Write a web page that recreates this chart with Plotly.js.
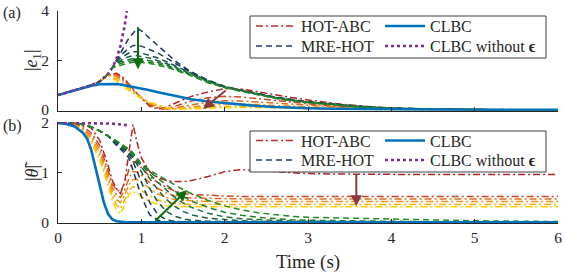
<!DOCTYPE html>
<html>
<head>
<meta charset="utf-8">
<script src="https://cdn.plot.ly/plotly-3.0.1.min.js"></script>
<style>html,body{margin:0;padding:0;background:#fff;}#chart{width:565px;height:274px;}</style>
</head>
<body>
<div id="chart"></div>
<script>
// ---------- Panel (a): |e1| ----------
const tA = [0,0.2,0.4,0.5,0.6,0.65,0.7,0.75,0.8,0.85,0.9,0.95,1.0,1.1,1.2,1.3,1.4,1.5,1.6,1.8,2.0,2.2,2.4,2.6,2.8,3.0,3.3,3.6,4.0,4.5,5.0,6.0];
const clbcA = [0.6,0.8,0.98,1.04,1.06,1.06,1.05,1.03,1.0,0.97,0.94,0.91,0.88,0.8,0.72,0.64,0.56,0.49,0.43,0.34,0.27,0.21,0.16,0.12,0.09,0.07,0.05,0.035,0.02,0.012,0.008,0.003];
const tPurpleA = [0,0.2,0.4,0.5,0.6,0.65,0.7,0.75,0.8,0.84];
const purpleA = [0.6,0.8,1.0,1.15,1.45,1.7,2.05,2.6,3.4,4.3];

const hotA1 = [0.6,0.8,1.0,1.15,1.4,1.45,1.48,1.4,1.25,1.05,0.85,0.65,0.47,0.15,0.03,0.12,0.27,0.42,0.55,0.73,0.86,0.85,0.75,0.62,0.5,0.4,0.27,0.17,0.08,0.03,0.01,0.003];
const hotA2 = [0.6,0.8,1.0,1.15,1.4,1.44,1.44,1.35,1.2,1.02,0.84,0.66,0.48,0.2,0.06,0.04,0.14,0.26,0.36,0.49,0.55,0.52,0.45,0.37,0.3,0.23,0.15,0.1,0.05,0.02,0.01,0.003];
const hotA3 = [0.6,0.8,1.0,1.15,1.4,1.42,1.4,1.3,1.15,0.98,0.82,0.66,0.5,0.25,0.1,0.03,0.07,0.14,0.21,0.31,0.37,0.36,0.32,0.27,0.22,0.17,0.11,0.07,0.04,0.02,0.01,0.002];
const hotA4 = [0.6,0.8,1.0,1.15,1.4,1.38,1.33,1.22,1.07,0.92,0.78,0.64,0.5,0.29,0.14,0.05,0.04,0.08,0.13,0.2,0.24,0.24,0.22,0.18,0.15,0.12,0.08,0.05,0.03,0.01,0.005,0.002];
const hotA5 = [0.6,0.8,1.0,1.15,1.4,1.33,1.25,1.12,0.98,0.85,0.72,0.6,0.48,0.3,0.17,0.08,0.03,0.04,0.07,0.12,0.15,0.16,0.15,0.12,0.1,0.08,0.05,0.03,0.02,0.01,0.005,0.002];
const hotA6 = [0.6,0.8,1.0,1.15,1.4,1.28,1.18,1.04,0.9,0.78,0.67,0.56,0.46,0.31,0.19,0.1,0.05,0.03,0.04,0.07,0.09,0.1,0.1,0.08,0.07,0.05,0.04,0.02,0.01,0.005,0.003,0.001];

const mreA1 = [0.6,0.8,1.0,1.15,1.45,1.7,2.0,2.3,2.6,2.9,3.1,3.3,3.2,2.9,2.6,2.3,2.0,1.75,1.55,1.2,0.95,0.8,0.65,0.52,0.42,0.33,0.24,0.15,0.07,0.03,0.015,0.005];
const mreA2 = [0.6,0.8,1.0,1.15,1.45,1.7,2.0,2.2,2.35,2.5,2.6,2.62,2.58,2.45,2.3,2.1,1.9,1.7,1.5,1.2,0.95,0.8,0.65,0.52,0.42,0.33,0.24,0.15,0.07,0.03,0.015,0.005];
const mreA3 = [0.6,0.8,1.0,1.15,1.45,1.7,1.95,2.1,2.2,2.3,2.35,2.35,2.3,2.2,2.1,1.95,1.8,1.63,1.48,1.18,0.94,0.79,0.64,0.51,0.41,0.32,0.23,0.14,0.07,0.03,0.015,0.005];
const mreA4 = [0.6,0.8,1.0,1.15,1.45,1.7,1.9,2.0,2.1,2.15,2.2,2.2,2.15,2.1,2.0,1.88,1.74,1.6,1.45,1.16,0.93,0.78,0.63,0.5,0.4,0.31,0.22,0.14,0.06,0.03,0.012,0.004];
const mreA5 = [0.6,0.8,1.0,1.15,1.45,1.7,1.85,1.95,2.0,2.05,2.08,2.08,2.05,2.0,1.93,1.82,1.7,1.56,1.42,1.14,0.92,0.77,0.62,0.49,0.39,0.3,0.22,0.13,0.06,0.025,0.01,0.004];
const mreA6 = [0.6,0.8,1.0,1.15,1.45,1.7,1.8,1.88,1.93,1.97,2.0,2.0,1.98,1.93,1.87,1.77,1.66,1.53,1.4,1.12,0.91,0.76,0.61,0.48,0.38,0.3,0.21,0.13,0.06,0.025,0.01,0.003];
const mreA7 = [0.6,0.8,1.0,1.15,1.45,1.7,1.75,1.82,1.87,1.9,1.93,1.93,1.92,1.88,1.82,1.73,1.62,1.5,1.38,1.1,0.9,0.75,0.6,0.47,0.37,0.29,0.21,0.12,0.05,0.02,0.01,0.003];

// ---------- Panel (b): |theta tilde| ----------
const tB = [0,0.1,0.2,0.3,0.4,0.5,0.6,0.65,0.7,0.75,0.8,0.85,0.9,0.95,1.0,1.1,1.2,1.3,1.4,1.5,1.6,1.8,2.0,2.2,2.4,2.6,2.8,3.0,3.5,4.0,4.5,5.0,6.0];
const tClbcB = [0,0.1,0.2,0.3,0.35,0.4,0.45,0.5,0.55,0.6,0.65,0.7,0.8,1.0,6.0];
const clbcB = [2,1.98,1.93,1.8,1.68,1.45,1.1,0.72,0.4,0.17,0.06,0.02,0.003,0,0];
const tPurpleB = [0,0.2,0.4,0.6,0.7,0.8,0.86];
const purpleB = [2,2,2,1.99,1.98,1.96,1.95];

const hotB1 = [2,2,2,1.98,1.9,1.65,1.15,0.85,0.68,0.58,0.8,1.4,1.97,1.6,1.3,1.02,0.9,0.84,0.82,0.82,0.84,0.92,1.02,1.06,1.04,1.01,0.99,0.98,0.97,0.96,0.96,0.96,0.96];
const hotB2 = [2,2,1.98,1.93,1.8,1.55,1.05,0.78,0.65,0.62,0.8,1.05,1.22,1.2,1.1,0.92,0.8,0.7,0.63,0.58,0.56,0.54,0.53,0.52,0.52,0.52,0.52,0.52,0.52,0.52,0.52,0.52,0.52];
const hotB3 = [2,2,1.97,1.9,1.75,1.48,0.98,0.7,0.55,0.5,0.65,0.88,1.02,1.02,0.95,0.8,0.68,0.59,0.53,0.5,0.49,0.48,0.47,0.47,0.47,0.47,0.47,0.47,0.47,0.47,0.47,0.47,0.47];
const hotB4 = [2,2,1.96,1.87,1.7,1.4,0.9,0.62,0.45,0.4,0.55,0.75,0.86,0.86,0.8,0.68,0.57,0.5,0.46,0.44,0.43,0.42,0.42,0.42,0.42,0.42,0.42,0.42,0.42,0.42,0.42,0.42,0.42];
const hotB5 = [2,1.99,1.95,1.84,1.65,1.33,0.82,0.53,0.35,0.28,0.45,0.64,0.72,0.7,0.64,0.53,0.45,0.4,0.38,0.37,0.36,0.36,0.36,0.36,0.36,0.36,0.36,0.36,0.36,0.36,0.36,0.36,0.36];
const hotB6 = [2,1.99,1.93,1.8,1.6,1.25,0.75,0.45,0.25,0.17,0.35,0.55,0.62,0.58,0.52,0.42,0.36,0.33,0.32,0.31,0.31,0.31,0.31,0.31,0.31,0.31,0.31,0.31,0.31,0.31,0.31,0.31,0.31];

const mreB1 = [2,2,1.99,1.97,1.92,1.84,1.74,1.64,1.55,1.46,1.38,1.3,1.05,0.78,0.52,0.15,0.04,0.01,0.005,0.003,0.002,0,0,0,0,0,0,0,0,0,0,0,0];
const mreB2 = [2,2,1.99,1.97,1.92,1.84,1.74,1.66,1.58,1.5,1.43,1.37,1.22,1.02,0.8,0.4,0.15,0.05,0.02,0.01,0.005,0.003,0.002,0.001,0,0,0,0,0,0,0,0,0];
const mreB3 = [2,2,1.99,1.97,1.92,1.84,1.74,1.67,1.6,1.53,1.46,1.4,1.3,1.17,1.02,0.68,0.4,0.22,0.12,0.07,0.04,0.02,0.01,0.006,0.004,0.002,0.001,0.001,0,0,0,0,0];
const mreB4 = [2,2,1.99,1.97,1.92,1.84,1.74,1.68,1.62,1.55,1.49,1.42,1.33,1.23,1.12,0.88,0.65,0.46,0.32,0.22,0.15,0.08,0.05,0.03,0.02,0.013,0.009,0.006,0.003,0.002,0.001,0.001,0];
const mreB5 = [2,2,1.99,1.97,1.92,1.84,1.74,1.69,1.63,1.57,1.51,1.45,1.37,1.27,1.15,0.97,0.8,0.64,0.5,0.39,0.3,0.18,0.11,0.07,0.05,0.035,0.025,0.02,0.012,0.008,0.005,0.003,0.001];
const mreB6 = [2,2,1.99,1.97,1.92,1.84,1.74,1.7,1.64,1.58,1.52,1.47,1.39,1.29,1.17,1.02,0.88,0.75,0.63,0.52,0.43,0.3,0.2,0.14,0.1,0.07,0.05,0.04,0.025,0.016,0.01,0.007,0.003];
const mreB7 = [2,2,1.99,1.97,1.92,1.84,1.74,1.7,1.65,1.59,1.53,1.48,1.4,1.3,1.18,1.05,0.95,0.85,0.75,0.66,0.58,0.44,0.33,0.25,0.19,0.15,0.12,0.1,0.08,0.06,0.04,0.03,0.015];

// ---------- styling / labels ----------
const hotColors = ['rgb(178,34,34)','rgb(205,70,35)','rgb(225,110,30)','rgb(238,145,20)','rgb(248,175,10)','rgb(255,205,0)'];
const mreColors = ['rgb(22,50,92)','rgb(24,68,84)','rgb(26,84,74)','rgb(28,100,64)','rgb(30,114,54)','rgb(32,126,44)','rgb(34,139,34)'];
const legendNames = ['HOT-ABC','CLBC','MRE-HOT','CLBC without <b>ϵ</b>'];
const yTitleA = '|<i>e</i><sub>1</sub>|';
const yTitleB = '|<i>θ̃</i>|';
const xTitle = 'Time (s)';

const hotA = [hotA1,hotA2,hotA3,hotA4,hotA5,hotA6];
const mreA = [mreA1,mreA2,mreA3,mreA4,mreA5,mreA6,mreA7];
const hotB = [hotB1,hotB2,hotB3,hotB4,hotB5,hotB6];
const mreB = [mreB1,mreB2,mreB3,mreB4,mreB5,mreB6,mreB7];

const FONT = '"Liberation Serif", "DejaVu Serif", serif';
const TXT = '#262626';
const HOT_DASH = '7px,3px,2px,3px';
const MRE_DASH = '6px,4px';
const traces = [];

function addPanel(xa, ya, t, hots, mres, tc, clbc, tp, purple) {
  hots.forEach((v, i) => traces.push({x: t, y: v, xaxis: xa, yaxis: ya, mode: 'lines', showlegend: false,
    line: {color: hotColors[i], width: 1.5, dash: HOT_DASH}, hoverinfo: 'skip'}));
  mres.forEach((v, i) => traces.push({x: t, y: v, xaxis: xa, yaxis: ya, mode: 'lines', showlegend: false,
    line: {color: mreColors[i], width: 1.5, dash: MRE_DASH}, hoverinfo: 'skip'}));
  traces.push({x: tc, y: clbc, xaxis: xa, yaxis: ya, mode: 'lines', showlegend: false,
    line: {color: '#0072BD', width: 2.6}, hoverinfo: 'skip'});
  traces.push({x: tp, y: purple, xaxis: xa, yaxis: ya, mode: 'lines', showlegend: false,
    line: {color: '#7E2F8E', width: 2.6, dash: 'dot'}, hoverinfo: 'skip'});
}
addPanel('x', 'y', tA, hotA, mreA, tA, clbcA, tPurpleA, purpleA);
addPanel('x2', 'y2', tB, hotB, mreB, tClbcB, clbcB, tPurpleB, purpleB);

// legend entries (one legend per entry, for both panels)
const legStyles = [
  {color: 'rgb(190,45,45)', width: 1.5, dash: HOT_DASH},
  {color: '#0072BD', width: 2.6},
  {color: 'rgb(30,60,100)', width: 1.5, dash: MRE_DASH},
  {color: '#7E2F8E', width: 2.6, dash: 'dot'}
];
const PT = 11, PH = 212, PL = 58, PW = 500;
const px2y = p => 1 - (p - PT) / PH;
const px2x = p => (p - PL) / PW;
const legCols = [251, 380];
const legRowsA = [26, 46], legRowsB = [140.5, 160];
const legends = {};
let li = 0;
[['x','y',legRowsA],['x2','y2',legRowsB]].forEach(([xa, ya, rows]) => {
  for (let k = 0; k < 4; k++) {
    li++;
    const key = li === 1 ? 'legend' : 'legend' + li;
    const col = k % 2, row = Math.floor(k / 2);
    traces.push({x: [null], y: [null], xaxis: xa, yaxis: ya, mode: 'lines', name: legendNames[k],
      legend: key, showlegend: true, line: legStyles[k]});
    legends[key] = {x: px2x(legCols[col]), y: px2y(rows[row] - 16.9), xanchor: 'left', yanchor: 'top',
      bgcolor: 'rgba(0,0,0,0)', borderwidth: 0, itemwidth: 40,
      font: {family: FONT, size: 16, color: TXT}};
  }
});

const axBase = {showline: true, linecolor: TXT, linewidth: 1, ticks: 'inside', ticklen: 4, tickcolor: TXT,
  showgrid: false, zeroline: false, tickfont: {family: FONT, size: 15.5, color: TXT}};

const annFont = {family: FONT, size: 16, color: TXT};
const layout = Object.assign({
  width: 565, height: 274,
  margin: {l: PL, r: 7, t: PT, b: 51},
  paper_bgcolor: '#fff', plot_bgcolor: '#fff',
  font: {family: FONT, size: 16, color: TXT},
  xaxis: Object.assign({}, axBase, {domain: [0, 1], anchor: 'y', range: [0, 6], tickvals: [0,1,2,3,4,5,6], showticklabels: false}),
  yaxis: Object.assign({}, axBase, {domain: [0.5297, 1], anchor: 'x', range: [-0.03, 4], tickvals: [0,2,4],
    ticklabelstandoff: 5}),
  xaxis2: Object.assign({}, axBase, {domain: [0, 1], anchor: 'y2', range: [0, 6], tickvals: [0,1,2,3,4,5,6],
    title: {text: xTitle, font: {family: FONT, size: 19, color: TXT}, standoff: 10}}),
  yaxis2: Object.assign({}, axBase, {domain: [0, 0.4764], anchor: 'x2', range: [-0.015, 2.02], tickvals: [0,1,2],
    ticklabelstandoff: 5}),
  shapes: [
    {type: 'rect', xref: 'paper', yref: 'paper', x0: px2x(250), x1: px2x(546), y0: px2y(58), y1: px2y(16),
      line: {color: '#404040', width: 1}, fillcolor: '#fff', layer: 'above'},
    {type: 'rect', xref: 'paper', yref: 'paper', x0: px2x(250), x1: px2x(546), y0: px2y(172), y1: px2y(131),
      line: {color: '#404040', width: 1}, fillcolor: '#fff', layer: 'above'}
  ],
  annotations: [
    {xref: 'paper', yref: 'paper', x: px2x(12), y: px2y(13), xanchor: 'center', yanchor: 'middle', text: '(a)', showarrow: false, font: annFont},
    {xref: 'paper', yref: 'paper', x: px2x(12), y: px2y(126), xanchor: 'center', yanchor: 'middle', text: '(b)', showarrow: false, font: annFont},
    {xref: 'paper', yref: 'paper', x: px2x(32), y: px2y(60), xanchor: 'center', yanchor: 'middle', text: yTitleA, textangle: -90, showarrow: false, font: {family: FONT, size: 18, color: TXT}},
    {xref: 'paper', yref: 'paper', x: px2x(32), y: px2y(171), xanchor: 'center', yanchor: 'middle', text: yTitleB, textangle: -90, showarrow: false, font: {family: FONT, size: 18, color: TXT}},
    {xref: 'x', yref: 'y', axref: 'x', ayref: 'y', x: 0.96, y: 1.65, ax: 0.96, ay: 3.4, text: '', showarrow: true,
      arrowhead: 2, arrowsize: 1.1, arrowwidth: 2, arrowcolor: '#0e6e0e'},
    {xref: 'x', yref: 'y', axref: 'x', ayref: 'y', x: 1.74, y: 0.04, ax: 2.03, ay: 0.84, text: '', showarrow: true,
      arrowhead: 2, arrowsize: 1.1, arrowwidth: 2, arrowcolor: '#8c3b3b'},
    {xref: 'x2', yref: 'y2', axref: 'x2', ayref: 'y2', x: 1.55, y: 0.65, ax: 1.15, ay: 0.0, text: '', showarrow: true,
      arrowhead: 2, arrowsize: 1.1, arrowwidth: 2, arrowcolor: '#0e6e0e'},
    {xref: 'x2', yref: 'y2', axref: 'x2', ayref: 'y2', x: 3.58, y: 0.32, ax: 3.58, ay: 1.0, text: '', showarrow: true,
      arrowhead: 2, arrowsize: 1.1, arrowwidth: 2, arrowcolor: '#8c3b3b'}
  ]
}, legends);

Plotly.newPlot('chart', traces, layout, {staticPlot: true, displayModeBar: false});
</script>
</body>
</html>
